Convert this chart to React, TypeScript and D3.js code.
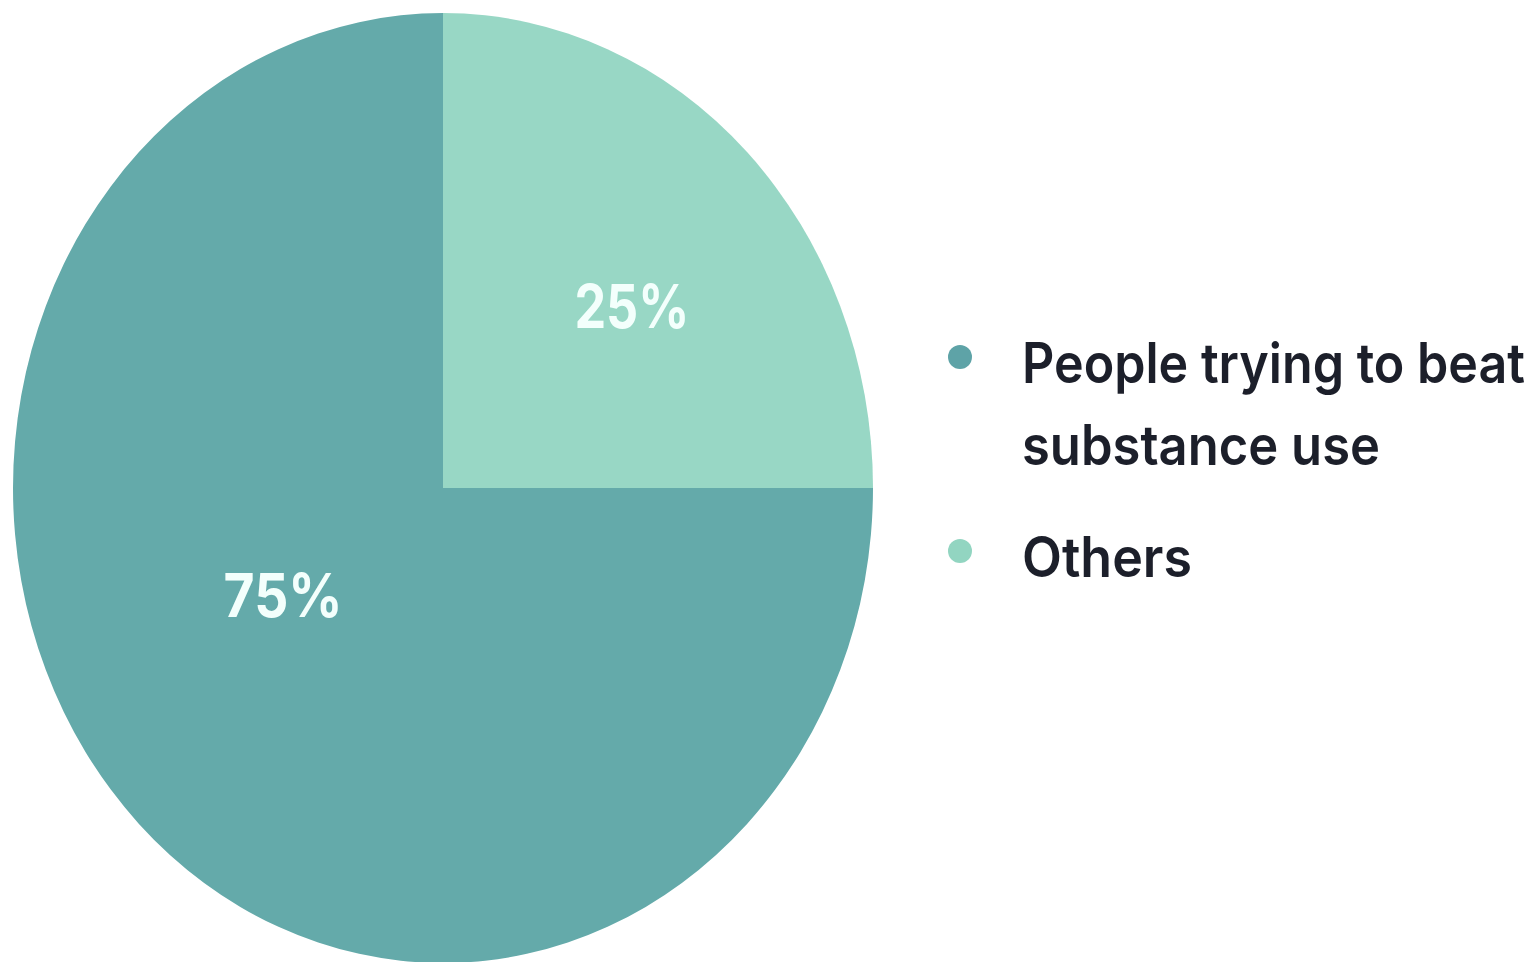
import React from "react";
import * as d3 from "d3";

const categories = ["People trying to beat substance use", "Others"];
const legendLines = [["People trying to beat", "substance use"], ["Others"]];
const values = [75, 25];
const colors = ["#64AAAA", "#98D7C5"];
const dotColors = ["#5ea3a7", "#92d5c1"];

const W = 1535;
const H = 962;
const CX = 443;
const CY = 488;
const RX = 430;
const RY = 475;
const FONT = "Inter, 'Open Sans', 'DejaVu Sans', sans-serif";

export default function App() {
  const pie = d3
    .pie<number>()
    .sort(null)
    .value((d) => d)
    .startAngle(Math.PI / 2)
    .endAngle(Math.PI / 2 + 2 * Math.PI);
  const arcs = pie(values);
  const arc = d3.arc<d3.PieArcDatum<number>>().innerRadius(0).outerRadius(RX);
  const total = d3.sum(values);

  // label placement (layout): radial fraction and angular tweak per slice size
  const labelPos = (a: d3.PieArcDatum<number>) => {
    const big = a.value / total > 0.5;
    const mid = (a.startAngle + a.endAngle) / 2 + (big ? 0.24 : 0.07);
    const r = big ? 0.435 : 0.582;
    return [CX + RX * r * Math.sin(mid), CY - RY * r * Math.cos(mid)];
  };

  const legendX = 1022;
  const dotX = 960;
  const legendBase = [383, 577];
  const lineGap = 82;
  const lineWidths = [[503, 358], [170]];
  const vScale = 1.16;

  return (
    <svg
      width={W}
      height={H}
      style={{ position: "absolute", left: 0, top: 0, background: "#fff" }}
    >
      <g transform={`translate(${CX},${CY}) scale(1,${RY / RX})`}>
        {arcs.map((a, i) => (
          <path key={i} d={arc(a) || ""} fill={colors[i]} />
        ))}
      </g>
      {arcs.map((a, i) => {
        const [x, y] = labelPos(a);
        const txt = `${Math.round((a.value / total) * 100)}%`;
        const big = a.value / total > 0.5;
        return (
          <text
            key={"l" + i}
            x={x}
            y={y}
            dy="0.36em"
            textAnchor="middle"
            fill="#f3fffc"
            fontFamily={FONT}
            fontWeight={700}
            fontSize={60}
            textLength={big ? 119 : 115}
            lengthAdjust="spacingAndGlyphs"
          >
            {txt}
          </text>
        );
      })}
      {categories.map((c, i) => (
        <g key={"lg" + i}>
          <circle cx={dotX} cy={legendBase[i] - 26} r={12} fill={dotColors[i]} />
          {legendLines[i].map((line, j) => {
            const by = legendBase[i] + j * lineGap;
            return (
              <g key={j} transform={`translate(${legendX},${by}) scale(1,${vScale})`}>
                <text
                  x={0}
                  y={0}
                  fill="#1c1f2a"
                  fontFamily={FONT}
                  fontWeight={600}
                  fontSize={48}
                  textLength={lineWidths[i][j]}
                  lengthAdjust="spacingAndGlyphs"
                >
                  {line}
                </text>
              </g>
            );
          })}
        </g>
      ))}
    </svg>
  );
}
